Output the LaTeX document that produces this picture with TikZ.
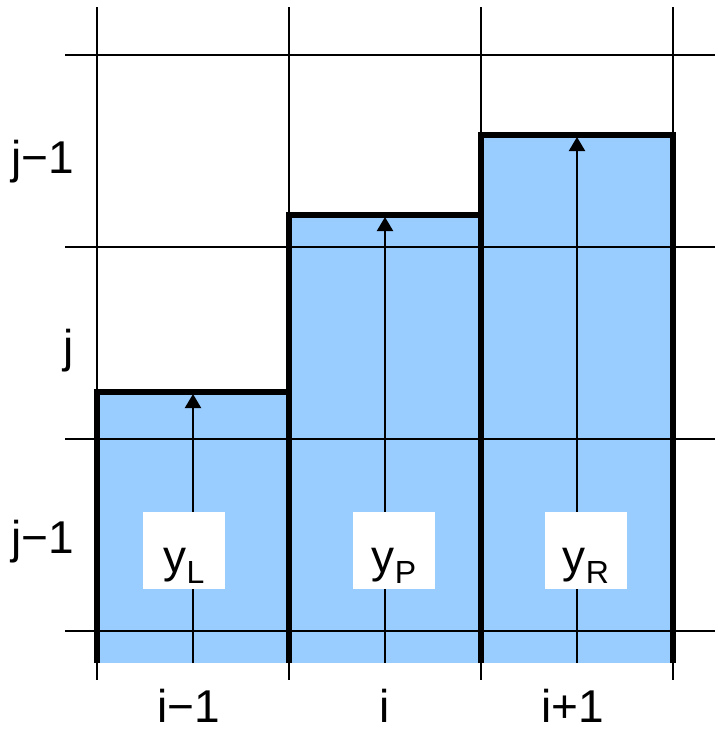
\documentclass[tikz,border=0pt]{standalone}
\usepackage{xcolor}
\usepackage{fontspec}
\setmainfont{Liberation Sans}
\usepackage{tikz}
\usetikzlibrary{arrows.meta, positioning, calc}
\definecolor{barblue}{HTML}{99CCFF}

\begin{document}
\begin{tikzpicture}[x=0.5pt, y=-0.5pt, >={Triangle[width=8pt, length=7pt]},
        grid/.style={line width=1pt},
        barline/.style={line width=2.8pt},
        lbl/.style={inner sep=0pt, anchor=base, font=\fontsize{23}{23}\selectfont},
        valbox/.style={fill=white, inner sep=0pt, text height=22pt, text depth=0pt, minimum width=41pt, minimum height=38.5pt, font=\fontsize{23}{23}\selectfont}]
        \useasboundingbox (0,0) rectangle (715,729);

        % bars
        \fill[barblue] (97,392) rectangle (289,663);
        \fill[barblue] (289,215) rectangle (481,663);
        \fill[barblue] (481,135) rectangle (673,663);

        % grid
        \foreach \y in {55,247,439,631} \draw[grid] (65,\y) -- (715,\y);
        \foreach \x in {97,289,481,673} \draw[grid] (\x,7) -- (\x,680);

        % bar outlines
        \draw[barline] (97,663) -- (97,392) -- (289,392) -- (289,215) -- (481,215) -- (481,135) -- (673,135) -- (673,663);
        \draw[barline] (289,392) -- (289,663);
        \draw[barline] (481,215) -- (481,663);

        \coordinate (baseL) at (193,663);
        \coordinate (topL) at (193,394);
        \coordinate (baseP) at (385,663);
        \coordinate (topP) at (385,217);
        \coordinate (baseR) at (577,663);
        \coordinate (topR) at (577,137);

        \draw[->, line width=1pt] (baseL) -- (topL);
        \draw[->, line width=1pt] (baseP) -- (topP);
        \draw[->, line width=1pt] (baseR) -- (topR);

        \node[valbox] (yL) at (184,550) {y\raisebox{-5.5pt}{\fontsize{16}{16}\selectfont L}};
        \node[valbox] (yP) at (394,550) {y\raisebox{-5.5pt}{\fontsize{16}{16}\selectfont P}};
        \node[valbox] (yR) at (586,550) {y\raisebox{-5.5pt}{\fontsize{16}{16}\selectfont R}};

        % axis labels
        \node[lbl] (jtop) at (43,173) {j−1};
        \node[lbl] (jmid) at (69,362) {j};
        \node[lbl] (jbot) at (43,553) {j−1};
        \node[lbl] (ileft) at (189,722) {i−1};
        \node[lbl] (imid) at (385,722) {i};
        \node[lbl] (iright) at (573,722) {i+1};
    \end{tikzpicture}
\end{document}
